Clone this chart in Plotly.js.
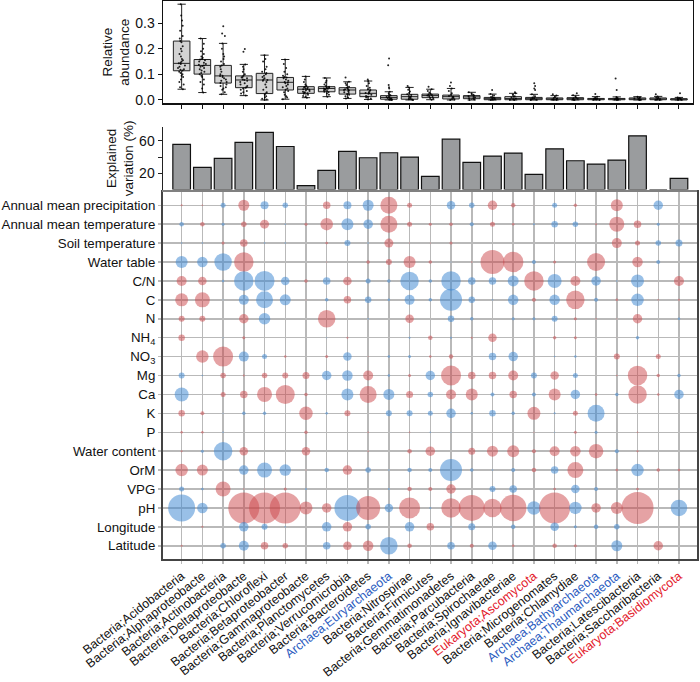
<!DOCTYPE html>
<html><head><meta charset="utf-8">
<script src="https://cdn.plot.ly/plotly-3.0.1.min.js"></script>
<style>html,body{margin:0;padding:0;background:#fff}#chart{width:700px;height:682px}</style>
</head><body><div id="chart"></div>
<script>
const taxa = ["Bacteria;Acidobacteria","Bacteria;Alphaproteobacte","Bacteria;Actinobacteria","Bacteria;Deltaproteobacte","Bacteria;Chloroflexi","Bacteria;Betaproteobacter","Bacteria;Gammaproteobacte","Bacteria;Planctomycetes","Bacteria;Verrucomicrobia","Bacteria;Bacteroidetes","Archaea;Euryarchaeota","Bacteria;Nitrospirae","Bacteria;Firmicutes","Bacteria;Gemmatimonadetes","Bacteria;Parcubacteria","Bacteria;Spirochaetae","Bacteria;Ignavibacteriae","Eukaryota;Ascomycota","Bacteria;Microgenomates","Bacteria;Chlamydiae","Archaea;Bathyarchaeota","Archaea;Thaumarchaeota","Bacteria;Latescibacteria","Bacteria;Saccharibacteria","Eukaryota;Basidiomycota"];
const factors = ["Annual mean precipitation","Annual mean temperature","Soil temperature","Water table","C/N","C","N","NH<sub>4</sub>","NO<sub>3</sub>","Mg","Ca","K","P","Water content","OrM","VPG","pH","Longitude","Latitude"];

// Relative abundance box statistics
const boxQ1  = [0.114,0.101,0.066,0.048,0.025,0.039,0.026,0.032,0.023,0.013,0.003,0.003,0.009,0.004,0.005,0.001,0.001,0.001,0.001,0.001,0.001,0.001,0.001,0.001,0.000];
const boxMed = [0.143,0.135,0.094,0.078,0.078,0.069,0.042,0.045,0.039,0.026,0.010,0.013,0.017,0.013,0.012,0.005,0.006,0.005,0.004,0.005,0.004,0.004,0.004,0.004,0.003];
const boxQ3  = [0.230,0.158,0.135,0.094,0.104,0.088,0.052,0.052,0.048,0.039,0.017,0.022,0.023,0.019,0.017,0.010,0.013,0.010,0.008,0.009,0.006,0.006,0.008,0.008,0.005];
const boxLow = [0.042,0.029,0.022,0.017,0.000,0.003,0.009,0.013,0.006,0.002,0.000,0.000,0.001,0.000,0.000,0.000,0.000,0.000,0.000,0.000,0.000,0.000,0.000,0.000,0.000];
const boxHigh= [0.374,0.240,0.221,0.139,0.175,0.158,0.092,0.086,0.071,0.074,0.032,0.049,0.042,0.045,0.030,0.023,0.026,0.022,0.017,0.018,0.013,0.012,0.013,0.014,0.010];
const abundancePoints = [
 [0.374,0.33,0.31,0.29,0.27,0.25,0.24,0.23,0.225,0.21,0.2,0.19,0.18,0.17,0.16,0.155,0.15,0.145,0.143,0.14,0.135,0.13,0.125,0.12,0.118,0.115,0.11,0.105,0.1,0.095,0.09,0.08,0.07,0.06,0.05,0.042],
 [0.24,0.22,0.2,0.19,0.18,0.17,0.165,0.16,0.158,0.155,0.15,0.145,0.14,0.138,0.135,0.133,0.13,0.125,0.12,0.115,0.11,0.105,0.1,0.095,0.09,0.08,0.07,0.06,0.045,0.029],
 [0.288,0.26,0.25,0.221,0.2,0.18,0.17,0.16,0.15,0.14,0.135,0.13,0.12,0.11,0.1,0.095,0.094,0.09,0.085,0.08,0.075,0.07,0.066,0.06,0.055,0.05,0.045,0.04,0.03,0.022],
 [0.199,0.188,0.139,0.13,0.12,0.11,0.1,0.095,0.09,0.088,0.085,0.08,0.078,0.075,0.07,0.065,0.06,0.055,0.05,0.048,0.045,0.04,0.035,0.03,0.025,0.017],
 [0.175,0.16,0.15,0.13,0.12,0.11,0.105,0.1,0.095,0.09,0.085,0.08,0.078,0.075,0.07,0.06,0.05,0.04,0.03,0.025,0.02,0.015,0.01,0.005,0.002,0.0],
 [0.158,0.14,0.125,0.11,0.1,0.095,0.09,0.088,0.085,0.08,0.075,0.07,0.068,0.065,0.06,0.055,0.05,0.045,0.04,0.035,0.03,0.02,0.015,0.01,0.003],
 [0.092,0.08,0.07,0.06,0.055,0.052,0.05,0.048,0.045,0.043,0.042,0.04,0.038,0.035,0.032,0.03,0.028,0.026,0.024,0.02,0.016,0.012,0.009],
 [0.086,0.075,0.068,0.06,0.055,0.052,0.05,0.048,0.046,0.045,0.044,0.042,0.04,0.038,0.035,0.032,0.03,0.025,0.02,0.013],
 [0.088,0.071,0.065,0.058,0.052,0.048,0.045,0.042,0.04,0.039,0.037,0.034,0.03,0.027,0.023,0.02,0.015,0.01,0.006],
 [0.08,0.074,0.065,0.055,0.048,0.042,0.039,0.035,0.03,0.027,0.026,0.024,0.02,0.016,0.013,0.01,0.006,0.002],
 [0.162,0.136,0.058,0.05,0.045,0.032,0.025,0.02,0.017,0.014,0.012,0.01,0.008,0.006,0.004,0.003,0.002,0.001,0],
 [0.055,0.049,0.04,0.033,0.027,0.022,0.019,0.016,0.013,0.011,0.008,0.005,0.003,0.002,0],
 [0.052,0.042,0.035,0.028,0.023,0.021,0.019,0.017,0.015,0.012,0.009,0.006,0.001],
 [0.068,0.055,0.045,0.035,0.026,0.019,0.016,0.013,0.011,0.008,0.004,0.002,0],
 [0.03,0.024,0.02,0.017,0.015,0.012,0.01,0.007,0.005,0.002,0],
 [0.039,0.023,0.017,0.012,0.01,0.008,0.005,0.003,0.001,0],
 [0.03,0.026,0.02,0.015,0.013,0.01,0.006,0.003,0.001,0],
 [0.065,0.055,0.045,0.039,0.022,0.015,0.01,0.007,0.005,0.003,0.001,0],
 [0.022,0.017,0.012,0.008,0.006,0.004,0.002,0.001,0],
 [0.026,0.018,0.013,0.009,0.007,0.005,0.003,0.001,0],
 [0.023,0.013,0.009,0.006,0.005,0.004,0.002,0.001,0],
 [0.084,0.039,0.012,0.008,0.006,0.004,0.002,0.001,0],
 [0.013,0.01,0.008,0.006,0.004,0.002,0.001,0],
 [0.022,0.014,0.01,0.008,0.005,0.004,0.002,0.001,0],
 [0.026,0.01,0.007,0.005,0.004,0.003,0.001,0]
];

// Explained variation (%)
const explainedVariation = [55.6,27.3,38.4,58,70.3,53,4.8,23.6,47,39.2,45.3,40,16.3,62,33.5,41.2,44.9,18.8,50.2,35.5,31.4,36.3,66.1,0,13.9];
const variationTicks = [20, 60];
const variationMinorTicks = [40];

// Signed importance of each factor (rows) for each taxon (columns); positive = red, negative = blue
const importance = [
 [2,1.5,-5,11,-8,-5.5,0.5,7.5,-8,-11,17,5,0,-8.5,-5.5,9.5,4.5,0.5,-5,3.5,0,12,0,-9.5,0],
 [-4.5,4.5,-3,5.5,9,-1.5,3,12.5,-12,-9.5,17,5,3,3.5,-4,5,2.5,-2,-6.5,-5.5,2,15,7.5,-3,0],
 [-1.5,-1.5,3,7.5,-1.5,-1.5,0,2.5,-6,-1.5,9,1,1,3,0,0,0,0,0,0,0,10,5,-5.5,-7],
 [-12,-10.5,-17.5,19.5,0,0,0,1,0,3.5,6,12,3.5,-1,1.5,24,20.5,-4,3,0,18,0,10.5,-4,0],
 [10,8.5,-2.5,-19.5,-20,-8.5,3.5,-7.5,8.5,-5,-3.5,-18.5,-3.5,-19.5,-7.5,-7.5,-11,19.5,-14,10,-9.5,-1.5,-13,0,10],
 [13,15,-1,-10,-17,-11,1,-3.5,7.5,-6.5,-2.5,-10,-3.5,-22,-6.5,-1.5,-10.5,4,-10.5,18.5,-4,2.5,-12.5,1.5,2],
 [6,6,0,9.5,-11.5,0,0,17.5,0,-1.5,0,8.5,0,-6.5,-3.5,0,-3,-3,-6,3,1.5,1,9.5,0,-2.5],
 [6.5,0,-1,3,0,0,0,-1,2,0,0,-2,4.5,-2,2,8.5,0,0,3.5,3,0,0.5,-3.5,0,0],
 [0,12.5,20,-10,-5,2.5,0,3,-8.5,1,-2.5,-3,2.5,4.5,0,-7.5,-9.5,0,-1.5,-2.5,0,6,1,5,0],
 [-6,-1.5,5.5,2,5.5,6,7,-9.5,-10.5,10,-2.5,3,-9.5,20,7.5,7.5,10,-6,8.5,-5,0,1.5,19.5,3.5,-3.5],
 [-14,0,5,7.5,15,19,3.5,0,-12,17,-11,7,-5.5,10,12,-4,7.5,-4,12,-9.5,2.5,-3.5,18.5,2.5,-9.5],
 [6.5,4,-1,-3.5,-3.5,0,13.5,-2.5,6,0,-6,-6,-5,-9.5,-2.5,-6.5,-3.5,13,-2,5,-17,0,0,0,0],
 [2.5,2.5,-1.5,0,0,0,3.5,0,0,1.5,0,1.5,-1.5,-1,0,0,0,1,-1,3,-3,0,1.5,0,0],
 [2,-3,-18.5,8.5,0,0,8.5,0,0,1.5,0,4.5,9.5,0,7,11,12,4,10,10.5,14.5,-4,2,0,0],
 [12.5,11,0,-9.5,-15,-11.5,1,-4.5,9.5,-5.5,-1.5,-4.5,-4,-22,-3.5,-1.5,-4,4.5,-7.5,16,0.5,2.5,-12.5,3.5,2.5],
 [-5,-2.5,15,1.5,1,3,-2,0,0,0,-2,4.5,4,9.5,0,-6,-7.5,0,2.5,-8.5,-4,0,2.5,0,-1],
 [-27,-10.5,0,31,31,31,13,9.5,-26,24,-8.5,21,-2,19.5,26,18.5,26.5,-13.5,31,-12.5,9.5,12,32,0,-16.5],
 [0,2,0,-9.5,-6,-1.5,0,-9.5,9.5,-5.5,0,-9.5,7.5,-1,-7,0,-4.5,0,-8.5,-3,-4.5,-5.5,0,0,0],
 [2,0,-5.5,-10,7.5,5.5,0,-7.5,8.5,10.5,-17.5,4.5,0,-7.5,4,-8.5,2.5,0,4.5,3,0,-11,0,9.5,0]
];

const FONT = "Liberation Sans, Arial, Helvetica, sans-serif";
const colIdx = taxa.map((_, i) => i + 1);
const rowIdx = factors.map((_, i) => i + 1);
const tickText = taxa.map(t => t.startsWith("Archaea") ? '<span style="color:#2c5cc0">' + t + '</span>'
                          : t.startsWith("Eukaryota") ? '<span style="color:#e3202b">' + t + '</span>' : t);

// bubble points
const bx = [], by = [], bs = [], bc = [];
importance.forEach((row, r) => row.forEach((v, c) => {
  if (v === 0) return;
  bx.push(c + 1); by.push(r + 1); bs.push(Math.abs(v));
  bc.push(v > 0 ? 'rgba(204,72,76,0.72)' : 'rgba(60,135,210,0.75)');
}));

const traces = [
  { type: 'box', x: colIdx, q1: boxQ1, median: boxMed, q3: boxQ3, lowerfence: boxLow, upperfence: boxHigh,
    y: abundancePoints, boxpoints: 'all', jitter: 0.45, pointpos: 0, width: 0.8,
    fillcolor: '#d2d2d2', line: { color: '#222', width: 1 },
    marker: { size: 2, color: 'rgba(0,0,0,0.85)' }, xaxis: 'x3', yaxis: 'y3', hoverinfo: 'skip' },
  { type: 'bar', x: colIdx, y: explainedVariation, width: 0.85,
    marker: { color: '#9a9c9e', line: { color: '#111', width: 1.2 } }, xaxis: 'x2', yaxis: 'y2' },
  { type: 'scatter', mode: 'markers', x: bx, y: by,
    marker: { size: bs, sizemode: 'diameter', color: bc, line: { width: 0 } }, xaxis: 'x', yaxis: 'y' }
];

const layout = {
  width: 700, height: 682, showlegend: false,
  margin: { l: 163, r: 3, t: 0, b: 123 },
  paper_bgcolor: '#fff', plot_bgcolor: 'rgba(0,0,0,0)',
  font: { family: FONT, size: 13.5, color: '#111' },
  xaxis: { domain: [0, 1], anchor: 'y', range: [0.1, 25.87], tickvals: colIdx, ticktext: tickText,
    tickangle: -38, showgrid: true, gridcolor: '#b9b9b9', gridwidth: 1.5, zeroline: false,
    showline: true, mirror: true, linecolor: '#444', linewidth: 2, ticks: 'outside', ticklen: 3,
    tickcolor: '#b9b9b9', tickwidth: 1.5, tickfont: { size: 12.5, color: '#111' } },
  yaxis: { domain: [0, 0.6565], anchor: 'x', range: [19.7, 0.3], tickvals: rowIdx, ticktext: factors,
    showgrid: true, gridcolor: '#b9b9b9', gridwidth: 1.5, zeroline: false,
    showline: true, mirror: true, linecolor: '#444', linewidth: 2, ticks: 'outside', ticklen: 3,
    tickcolor: '#b9b9b9', tickwidth: 1.5, ticklabelstandoff: 0,
    tickfont: { size: 13.3, color: '#111' } },
  xaxis2: { domain: [0, 1], anchor: 'y2', range: [0.1, 25.87], showticklabels: false, showgrid: false,
    zeroline: false, showline: true, linecolor: '#808080', linewidth: 2, ticks: '' },
  yaxis2: { domain: [0.6608, 0.7728], anchor: 'x2', range: [0, 77], tickvals: variationTicks,
    minor: { tickvals: variationMinorTicks, ticks: 'outside', ticklen: 4, tickcolor: '#222', showgrid: false },
    ticks: 'outside', ticklen: 4, tickcolor: '#222', showgrid: false, zeroline: false,
    showline: true, linecolor: '#222', linewidth: 1.5, tickfont: { size: 14 },
    title: { text: 'Explained<br>variation (%)', font: { size: 13.5 }, standoff: 2 } },
  xaxis3: { domain: [0, 0.9925], anchor: 'y3', range: [0.1, 25.68], tickvals: colIdx, showticklabels: false,
    ticks: 'outside', ticklen: 4, tickcolor: '#111', showgrid: false, zeroline: false,
    showline: true, mirror: true, linecolor: '#111', linewidth: 1.5 },
  yaxis3: { domain: [0.8152, 0.998], anchor: 'x3', range: [-0.013, 0.386], tickvals: [0, 0.1, 0.2, 0.3],
    tickformat: '.1f', ticks: 'outside', ticklen: 4, tickcolor: '#111',
    showgrid: false, zeroline: false, showline: true, mirror: true, linecolor: '#111', linewidth: 1.5,
    tickfont: { size: 14 },
    title: { text: 'Relative<br>abundance', font: { size: 13.5 }, standoff: 2 } }
};

Plotly.newPlot('chart', traces, layout, { displayModeBar: false, staticPlot: true });
</script>
</body></html>
